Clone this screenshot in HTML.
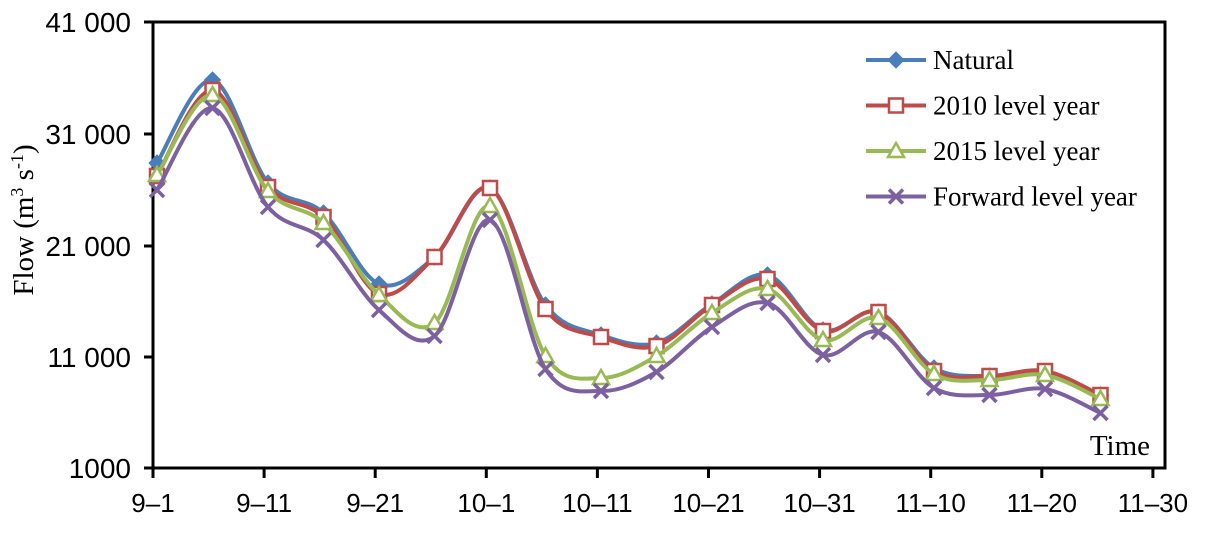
<!DOCTYPE html>
<html><head><meta charset="utf-8"><style>
html,body{margin:0;padding:0;background:#fff;}
svg{display:block;}
.t{font-family:"Liberation Sans",sans-serif;fill:#000;}
.s{font-family:"Liberation Serif",serif;fill:#000;}
</style></head><body>
<svg id="c" width="1206" height="538" viewBox="0 0 1206 538" xmlns="http://www.w3.org/2000/svg">
<g stroke="#000" stroke-width="3">
<rect x="153" y="22" width="1012" height="446" fill="none"/>
<line x1="144" y1="22" x2="153" y2="22"/>
<line x1="144" y1="134" x2="153" y2="134"/>
<line x1="144" y1="246" x2="153" y2="246"/>
<line x1="144" y1="357" x2="153" y2="357"/>
<line x1="144" y1="468" x2="153" y2="468"/>
</g>
<g class="t" text-anchor="end" style="font-size:28px">
<text x="131" y="32">41 000</text>
<text x="131" y="144">31 000</text>
<text x="131" y="256">21 000</text>
<text x="131" y="367">11 000</text>
<text x="131" y="478">1000</text>
</g>
<g id="xt" class="t" text-anchor="middle" style="font-size:26px"></g>
<text class="s" x="1150" y="455" text-anchor="end" style="font-size:29px">Time</text>
<text class="s" transform="translate(33,220) rotate(-90)" text-anchor="middle" style="font-size:29px">Flow (m<tspan dy="-10" style="font-size:18px">3</tspan><tspan dy="10"> s</tspan><tspan dy="-10" style="font-size:18px">-1</tspan><tspan dy="10">)</tspan></text>
<g id="series"></g>
<g id="legend"></g>
</svg>
<script>
var NS="http://www.w3.org/2000/svg";
function el(t,a,p){var e=document.createElementNS(NS,t);for(var k in a)e.setAttribute(k,a[k]);p.appendChild(e);return e;}
var svg=document.getElementById('c');
var xl=["9-1","9-11","9-21","10-1","10-11","10-21","10-31","11-10","11-20","11-30"];
var xt=document.getElementById('xt');
xl.forEach(function(l,i){var x=153+i*111.1;
el('line',{x1:x,y1:468,x2:x,y2:478,stroke:'#000','stroke-width':3},svg);
var t=el('text',{x:x,y:512},xt);t.textContent=l.replace('-','\u2013');});
var X=[];for(var i=0;i<18;i++)X.push(157+55.5*i);
var S=[
{c:"#4a7ebb",m:"d",y:[163,80,183,213,284,257,188,305,335,343,304,275,330,312,368,376,372,395],n:"Natural"},
{c:"#be4b48",m:"s",y:[176,90,187,217,294,257,188,309,337,346,305,279,331,312,371,376,371,395],n:"2010 level year"},
{c:"#98b954",m:"t",y:[175,95,191,223,295,323,206,356,378,356,313,289,340,318,374,380,375,399],n:"2015 level year"},
{c:"#7d60a0",m:"x",y:[190,108,207,240,310,336,220,369,391,372,327,303,355,332,388,395,389,413],n:"Forward level year"}];
var g=document.getElementById('series'),lg=document.getElementById('legend');
function marker(type,x,y,c,p){
 if(type=="d")el('path',{d:"M"+x+","+(y-8)+"L"+(x+8)+","+y+"L"+x+","+(y+8)+"L"+(x-8)+","+y+"Z",fill:c,stroke:c},p);
 else if(type=="s")el('rect',{x:x-7,y:y-7,width:14,height:14,fill:"#fff",stroke:c,'stroke-width':2.5},p);
 else if(type=="t")el('path',{d:"M"+x+","+(y-8)+"L"+(x+8)+","+(y+6)+"L"+(x-8)+","+(y+6)+"Z",fill:"#fff",stroke:c,'stroke-width':2.5},p);
 else el('path',{d:"M"+(x-7)+","+(y-7)+"L"+(x+7)+","+(y+7)+"M"+(x+7)+","+(y-7)+"L"+(x-7)+","+(y+7),stroke:c,'stroke-width':3.5},p);
}
S.forEach(function(s,k){
 var P=X.map(function(x,i){return[x,s.y[i]];});
 var d="M"+P[0][0]+","+P[0][1];
 for(var i=0;i<P.length-1;i++){var p0=P[i-1]||P[i],p1=P[i],p2=P[i+1],p3=P[i+2]||p2;
  var c1=[p1[0]+(p2[0]-p0[0])/6,p1[1]+(p2[1]-p0[1])/6],c2=[p2[0]-(p3[0]-p1[0])/6,p2[1]-(p3[1]-p1[1])/6];
  d+=" C"+c1+" "+c2+" "+p2;}
 el('path',{d:d,fill:"none",stroke:s.c,'stroke-width':4},g);
 P.forEach(function(p){marker(s.m,p[0],p[1],s.c,g);});
 var ly=60+k*45.5;
 el('line',{x1:866,y1:ly,x2:926,y2:ly,stroke:s.c,'stroke-width':4},lg);
 marker(s.m,896,ly,s.c,lg);
 var t=el('text',{x:933,y:ly+9,'class':'s',style:'font-size:27px'},lg);t.textContent=s.n;
});
</script>
</body></html>
